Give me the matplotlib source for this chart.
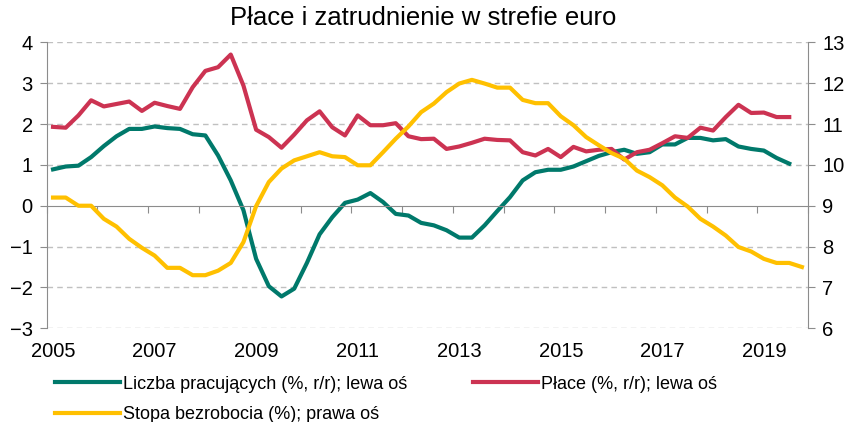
import numpy as np
import matplotlib
matplotlib.use("Agg")
import matplotlib.pyplot as plt

# quarterly data, 2005Q1 onwards
years = [2005, 2007, 2009, 2011, 2013, 2015, 2017, 2019]
pracujacy = [0.89, 0.96, 0.98, 1.19, 1.46, 1.70, 1.88, 1.88, 1.94, 1.90,
             1.88, 1.75, 1.72, 1.23, 0.62, -0.11, -1.30, -1.97, -2.22, -2.03,
             -1.40, -0.70, -0.28, 0.07, 0.15, 0.31, 0.09, -0.20, -0.24, -0.42,
             -0.48, -0.60, -0.78, -0.78, -0.48, -0.13, 0.21, 0.62, 0.82, 0.88,
             0.88, 0.96, 1.09, 1.22, 1.31, 1.37, 1.27, 1.31, 1.50, 1.50,
             1.66, 1.66, 1.60, 1.63, 1.45, 1.39, 1.35, 1.17, 1.03]
place = [1.93, 1.91, 2.21, 2.58, 2.43, 2.49, 2.55, 2.32, 2.52, 2.44,
         2.37, 2.90, 3.30, 3.39, 3.70, 2.94, 1.86, 1.68, 1.42, 1.74,
         2.09, 2.31, 1.92, 1.72, 2.21, 1.97, 1.97, 2.02, 1.70, 1.63,
         1.64, 1.39, 1.45, 1.54, 1.64, 1.61, 1.60, 1.31, 1.23, 1.39,
         1.19, 1.44, 1.33, 1.37, 1.39, 1.13, 1.31, 1.37, 1.53, 1.70,
         1.66, 1.91, 1.84, 2.17, 2.47, 2.27, 2.28, 2.17, 2.17]
bezrobocie = [9.20, 9.20, 9.00, 9.00, 8.68, 8.49, 8.19, 7.97, 7.78, 7.48,
              7.48, 7.30, 7.30, 7.41, 7.60, 8.11, 8.99, 9.58, 9.91, 10.11,
              10.21, 10.31, 10.21, 10.19, 9.99, 9.99, 10.31, 10.64, 10.94, 11.29,
              11.50, 11.78, 11.99, 12.08, 11.99, 11.89, 11.89, 11.59, 11.51, 11.51,
              11.19, 10.97, 10.68, 10.48, 10.29, 10.15, 9.86, 9.70, 9.50, 9.20,
              8.98, 8.68, 8.49, 8.27, 7.99, 7.88, 7.70, 7.60, 7.60, 7.50]

plt.rcParams["font.family"] = ["Liberation Sans", "DejaVu Sans"]
fs = 13
grid_c = "#c0c0c0"
spine_c = "#8c8c8c"

fig = plt.figure(figsize=(8.46, 4.22), dpi=100)
ax = fig.add_axes([0.0552, 0.222, 0.9002, 0.6778])
ax2 = ax.twinx()

x1 = np.arange(len(pracujacy)) + 0.5
x2 = np.arange(len(bezrobocie)) + 0.5
l1, = ax.plot(x1, pracujacy, color="#00796b", lw=3.0, solid_joinstyle="round",
              label="Liczba pracujących (%, r/r); lewa oś")
l2, = ax.plot(x1, place, color="#cc3352", lw=3.0, solid_joinstyle="round",
              label="Płace (%, r/r); lewa oś")
l3, = ax2.plot(x2, bezrobocie, color="#ffc000", lw=3.0, solid_joinstyle="round",
               label="Stopa bezrobocia (%); prawa oś")

ax.set_xlim(0, 60)
ax.set_ylim(-3, 4)
ax2.set_ylim(6, 13)
ax.set_yticks(range(-3, 5))
ax2.set_yticks(range(6, 14))

# dashed grid except at zero
for v in range(-3, 5):
    if v != 0:
        ax.axhline(v, color=grid_c, lw=1.0, ls=(0, (4, 3)), zorder=0)

ax.spines["top"].set_visible(False)
ax2.spines["top"].set_visible(False)
ax2.spines["bottom"].set_visible(False)
ax2.spines["left"].set_visible(False)
ax.spines["right"].set_visible(False)
ax.spines["left"].set_color(spine_c)
ax2.spines["right"].set_color(spine_c)
ax.spines["bottom"].set_position(("data", 0))
ax.spines["bottom"].set_color(spine_c)

ax.set_xticks(np.arange(0, 61, 4))
ax.tick_params(axis="x", direction="out", length=5, color=spine_c, labelbottom=False)
ax.tick_params(axis="y", direction="out", length=5, color=spine_c, labelsize=fs + 1.5, pad=5)
ax2.tick_params(axis="y", direction="out", length=5, color=spine_c, labelsize=fs + 1.5, pad=5)

sec = ax.secondary_xaxis(0.0)
sec.spines["bottom"].set_visible(False)
sec.set_xticks([(y - 2005) * 4 + 0.5 for y in years])
sec.set_xticklabels([str(y) for y in years], fontsize=fs + 1.5)
sec.tick_params(length=0, pad=10)

fig.text(0.5, 0.957, "Płace i zatrudnienie w strefie euro", fontsize=18.5,
         ha="center", va="center")

leg_kw = dict(loc="upper left", frameon=False, fontsize=fs,
              handlelength=3.6, handletextpad=0.15, labelspacing=0.75,
              borderaxespad=0, borderpad=0)
fig.legend(handles=[l1, l3], bbox_to_anchor=(0.065, 0.11), **leg_kw)
fig.legend(handles=[l2], bbox_to_anchor=(0.559, 0.11), **leg_kw)

fig.savefig("out.png", dpi=100)
